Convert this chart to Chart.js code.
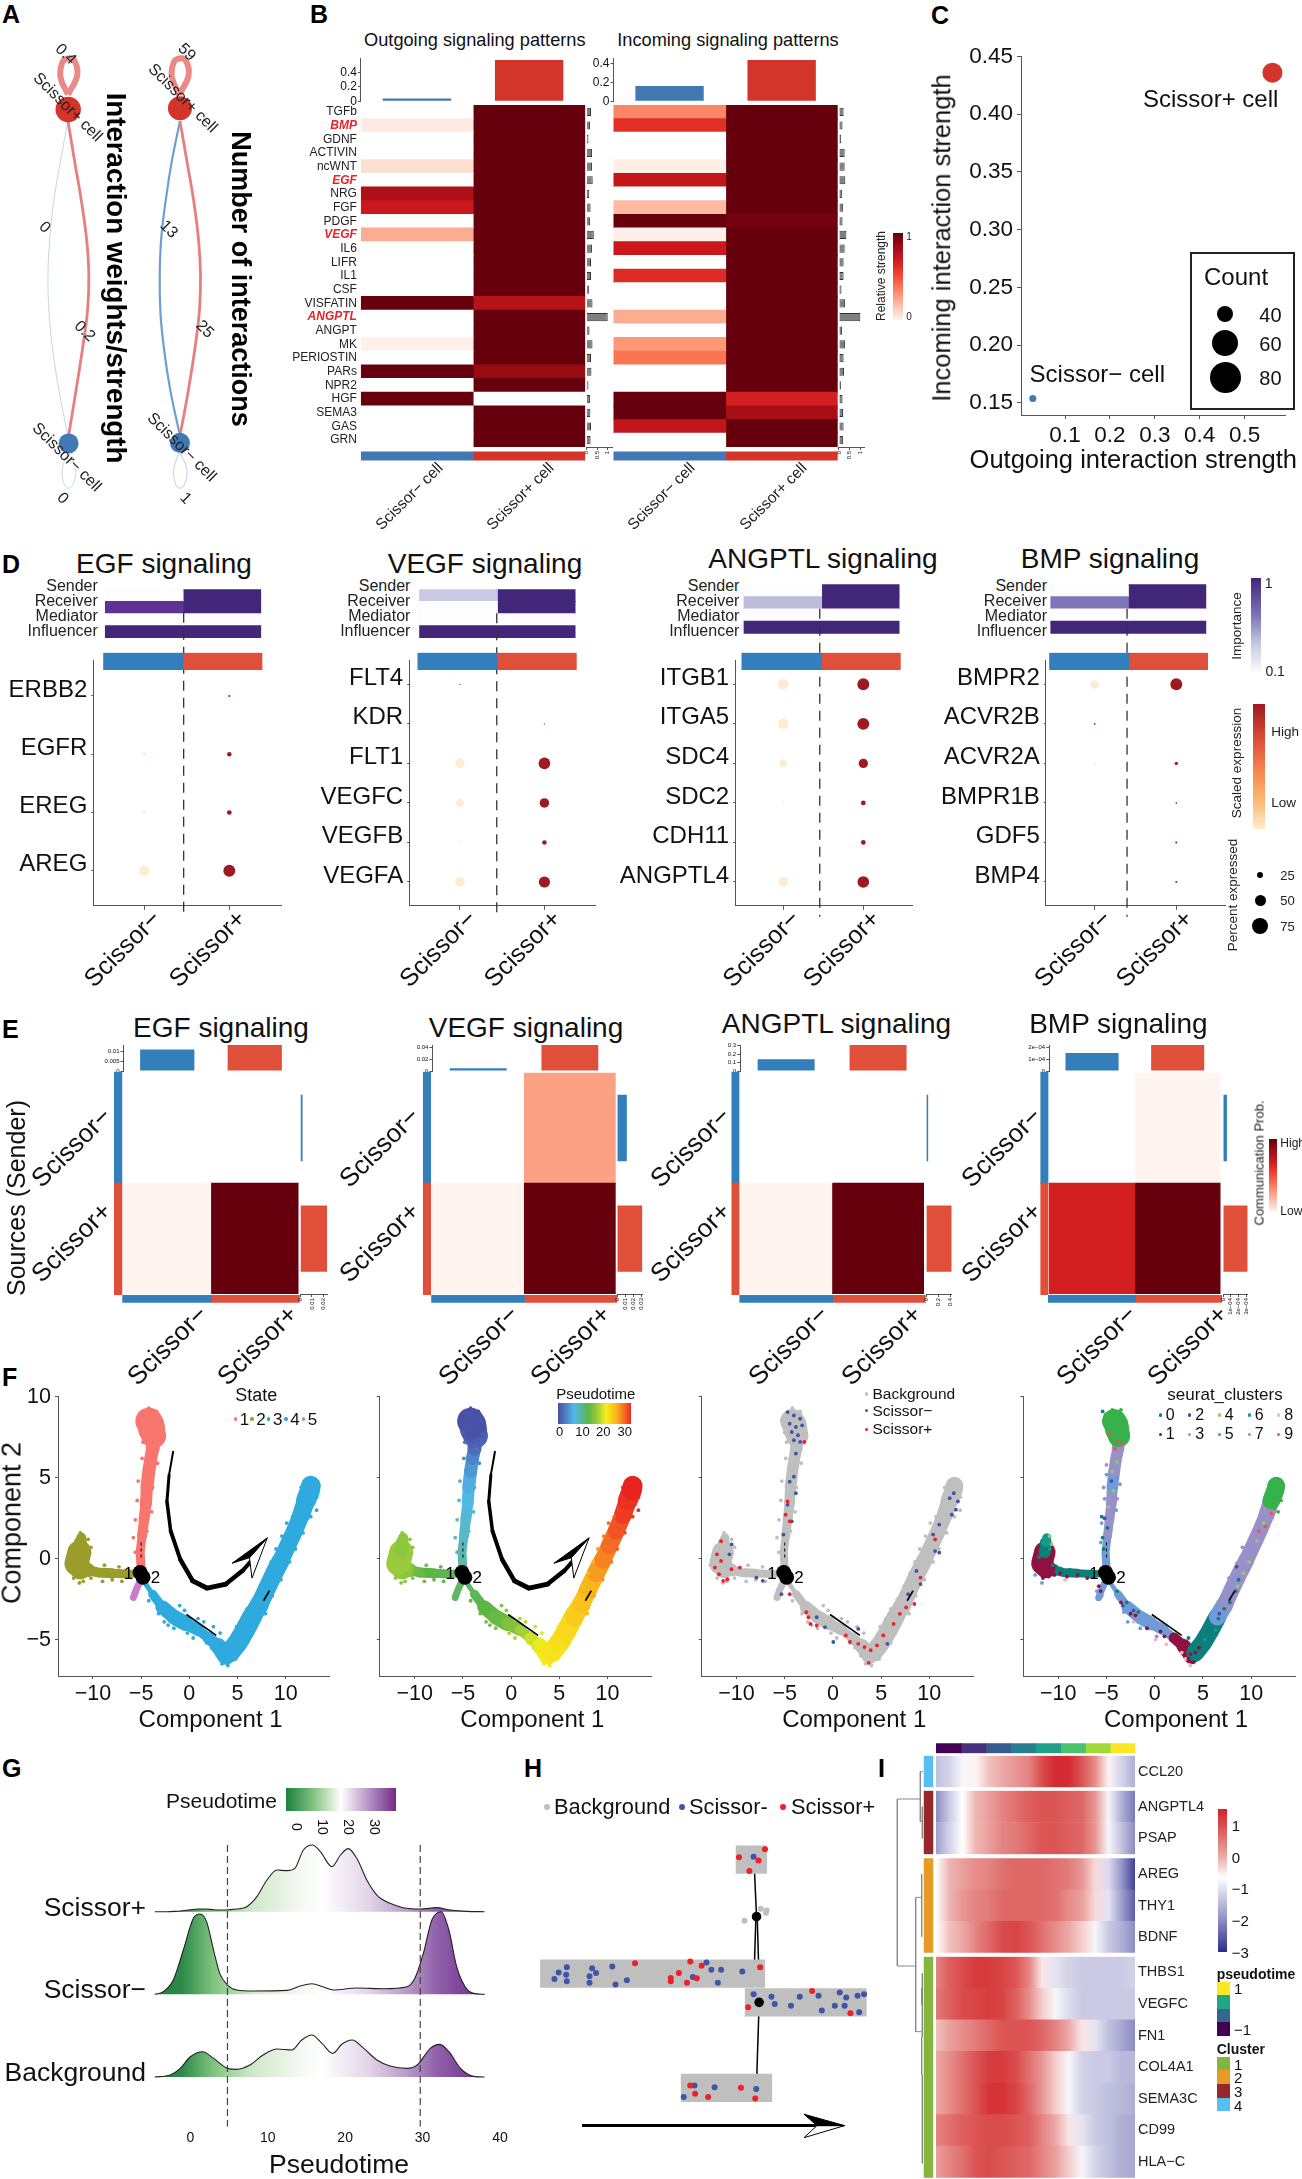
<!DOCTYPE html>
<html>
<head>
<meta charset="utf-8">
<title>Scissor cell communication figure</title>
<script src="https://cdn.jsdelivr.net/npm/chart.js@4/dist/chart.umd.js"></script>
<style>
  html, body { margin: 0; padding: 0; background: #fff; }
  body { position: relative; width: 1302px; height: 2179px; overflow: hidden; }
</style>
</head>
<body>
<script>
// ---- panel B: signalling heatmaps
const sigNames = ['TGFb','BMP','GDNF','ACTIVIN','ncWNT','EGF','NRG','FGF','PDGF','VEGF','IL6','LIFR','IL1','CSF','VISFATIN','ANGPTL','ANGPT','MK','PERIOSTIN','PARs','NPR2','HGF','SEMA3','GAS','GRN'];
const sigHighlight = ['BMP','EGF','VEGF','ANGPTL'];
const outNeg = [0,.07,0,0,.15,0,.85,.75,0,.33,0,0,0,0,1,0,0,.03,0,1,0,1,0,0,0];
const outPos = [1,1,1,1,1,1,1,1,1,1,1,1,1,1,.82,1,1,1,1,.9,1,0,1,1,1];
const inNeg = [.42,.6,0,0,.05,.78,0,.3,1,.04,.75,0,.62,0,0,.33,0,.37,.47,0,0,1,1,.78,0];
const inPos = [1,1,1,1,1,1,1,1,.97,1,1,1,1,1,1,1,1,1,1,1,1,.7,.87,1,1];
const outSide = [.22,.17,.1,.27,.27,.3,.14,.2,.17,.35,.27,.22,.22,.12,.29,1,.15,.29,.22,.24,.1,.17,.19,.22,.2];
const inSide = [.22,.17,.1,.27,.27,.3,.14,.2,.17,.35,.27,.22,.22,.12,.29,1,.15,.29,.22,.24,.1,.17,.19,.22,.2];
const outTop = [.037,.57];
const inTop = [.163,.444];

// ---- panel C
const strengthOut = [.0283,.562];
const strengthIn = [.1538,.436];

// ---- panel D: dot plots, percent expressed and scaled expression per gene
const egfGenes = ['ERBB2','EGFR','EREG','AREG'];
const egfNeg = [0,13,12,40];
const egfPos = [7,17,18,48];
const egfHigh = [0,0,0,0];
const egfRoles = [[0,1],[.85,1],[0,0],[1,1]];
const vegfGenes = ['FLT4','KDR','FLT1','VEGFC','VEGFB','VEGFA'];
const vegfNeg = [4,0,37,30,8,38];
const vegfPos = [0,4,47,38,17,45];
const vegfHigh = [1,0,0,0,0,0];
const vegfRoles = [[.3,1],[0,1],[0,0],[1,1]];
const angptlGenes = ['ITGB1','ITGA5','SDC4','SDC2','CDH11','ANGPTL4'];
const angptlNeg = [43,42,30,8,0,38];
const angptlPos = [48,48,37,18,18,47];
const angptlHigh = [0,0,0,0,0,0];
const angptlRoles = [[0,1],[.35,1],[0,0],[1,1]];
const bmpGenes = ['BMPR2','ACVR2B','ACVR2A','BMPR1B','GDF5','BMP4'];
const bmpNeg = [33,6,8,0,3,2.5];
const bmpPos = [48,0,12.5,5,7,7];
const bmpHigh = [0,1,0,0,0,0];
const bmpRoles = [[0,1],[.6,1],[0,0],[1,1]];
const dashPos = [.463,.436,.456,.396];
const groupNames = ['Scissor−','Scissor+'];

// ---- panel E: communication probability
const egfHeat = [[0,0],[.005,1]];
const egfTop = [.0108,.013];
const egfSide = [.002,.0228];
const vegfHeat = [[0,.35],[.005,1]];
const vegfTop = [.0045,.0437];
const vegfSide = [.012,.031];
const angptlHeat = [[0,0],[.005,1]];
const angptlTop = [.138,.306];
const angptlSide = [.034,.42];
const bmpHeat = [[0,.005],[.7,1]];
const bmpTop = [1.5e-4,2.17e-4];
const bmpSide = [.5e-4,3.15e-4];

// ---- panel F: branch centre lines (component 1, component 2, pseudotime)
const topX = [-5,-5.1,-4.9,-4.7,-4.5,-4.4,-4.2,-4,-3.8,-3.7,-3.9,-4,-4.2];
const topY = [-.6,.4,1.4,2.4,3.4,4.4,5.4,6.2,6.8,7.6,8,8.3,8.5];
const topPt = [10,9,7.5,6.5,5.5,4.5,3.5,2.5,1.5,1,.5,.2,0];
const leftX = [-5.2,-6.5,-8,-9.5,-10.5,-11.3,-11.7,-11.4,-11.3,-11.2];
const leftY = [-.9,-.95,-.9,-.85,-.7,-.6,-.3,.4,1,1.3];
const leftPt = [12,12.5,13,13.5,14,15,15.5,15,15,15];
const tailX = [-5.1,-5.5,-5.8];
const tailY = [-1.4,-1.9,-2.4];
const tailPt = [12,12,12];
const edgeX = [-4.7,-3.8,-2.8,-1.6,-.4,.9,2,3,3.8,4.2,5,5.7,6.5,7.3,8,8.8,9.5,10.2,10.9,11.6,12.1,12.5,12.6];
const edgeY = [-1.4,-2.2,-3,-3.6,-4,-4.4,-4.9,-5.4,-6,-5.8,-5.2,-4.5,-3.6,-2.8,-1.9,-.9,-.1,.8,1.7,2.7,3.6,4.2,4.5];
const edgePt = [12,12.5,13,13.5,14.5,16,18,19.5,20.5,21,21.5,22,23,24,25,26,27,28,29,30,31,32,32];
// loose cells around the branches: component 1, component 2, pseudotime
const topCells = [[-4.9,8.8,0],[-5.3,8.6,0],[-3.4,9.1,0],[-4.2,9.3,0],[-3.1,7.4,1],[-2.9,7.7,1],[-5,7.8,1],[-4.8,7.2,1.5],[-3.6,6.8,2],[-4.9,6.2,3],[-3.3,5.9,3],[-5.3,4.8,4.5],[-3.8,4.4,4.5],[-5.4,3.6,5.5],[-3.9,2.9,6],[-5.6,2.4,7],[-4.4,1.7,7.5],[-5.8,1.3,8],[-5.6,.4,9]];
const leftCells = [[-12.7,-.4,15.5],[-12.3,.1,15.5],[-12,-1.2,15],[-11.4,-1.5,15],[-11,-1.4,15],[-10.2,-1.2,14.5],[-9,-1.4,14],[-8,-1.3,13.5],[-7,-1.4,13],[-10.5,.3,15],[-10.2,.7,15],[-10.5,1.2,15],[-11.8,.9,15],[-11.3,1.6,15],[-8.8,-.4,14],[-7.3,-.5,13]];
const edgeCells = [[-4.2,-2.6,13],[-3.5,-2.4,13],[-3.2,-3.4,13.5],[-2.6,-3.9,14],[-2.2,-4.1,14],[-1.6,-4.3,14.5],[-1,-2.9,14.5],[-.5,-3.2,15],[-.2,-4.6,16],[.4,-4.9,16.5],[.9,-3.7,16.5],[1.5,-3.9,17],[1.8,-5.2,18],[2.3,-5.5,18.5],[2.5,-4.2,18],[3.2,-4.6,19],[2.9,-6,20],[3.4,-6.5,20.5],[4,-6.6,20.5],[4.8,-6.2,21],[5.3,-5.7,21],[6,-5.2,22],[6.5,-4.6,22.5],[4.9,-4.2,21],[5.5,-3.7,21.5],[6,-3.1,22],[6.7,-2.5,23],[7.4,-1.7,24],[8,-.9,24.5],[8.5,-.2,25],[9,.6,26],[9.6,1.4,27],[10.1,2.2,28],[10.7,2.6,28.5],[7.9,-3.4,24.5],[8.6,-2.3,25.5],[9.5,-1.3,26.5],[10.4,-.2,27.5],[11,.6,28.5],[11.8,1.6,29.5],[12.6,2.6,30.5],[11.4,3.6,31],[11.6,4.4,32],[13.2,3.8,31.5],[13.2,3,31],[12.7,4.9,32]];
const scissorNegCells = [[-4.7,9.06],[-4.05,8.85],[-3.4,8.65],[-4.48,8.34],[-3.84,8.14],[-3.19,8.24],[-4.27,7.83],[-3.62,7.63],[-4.05,7.32],[-3.4,7.22],[-3.84,6.5],[-4.05,5.07],[-4.48,4.76],[-3.84,4.05],[-4.7,3.33],[-4.27,2.31],[-5.13,1.49],[12.54,4.05],[12.11,3.74],[12.97,3.54],[12.76,3.03],[12.33,2.72],[11.03,2.11],[10.39,1.49],[10.6,.47],[11.03,.37],[8.66,-.76],[9.09,-1.57],[7.8,-2.19],[-1.68,-3.62],[-.82,-4.23],[.04,-5.15],[2.63,-4.34],[5.65,-5.26],[-10.5,.88],[-10.73,.27],[-7.93,-1.17],[-7.28,-1.37],[-5.34,-2.19]];
const scissorPosCells = [[-12.03,.27],[-12.24,-.55],[-11.81,-.96],[-11.38,-1.37],[-10.95,-1.27],[-11.6,-.14],[-10.52,-.65],[-9.66,-.55],[-11.6,1.08],[-4.48,2.31],[-4.91,2.72],[-4.7,3.54],[-2.97,7.22],[-2.54,-3.62],[-2.33,-4.03],[-1.68,-4.13],[-2.76,-3.31],[1.34,-4.74],[1.77,-5.15],[2.63,-5.26],[3.28,-5.46],[3.92,-5.66],[3.71,-6.44],[4.57,-5.36],[5.22,-4.74],[6.29,-4.03],[6.94,-3.41],[7.59,-3.01],[8.45,-2.8],[9.09,-1.17],[10.6,1.19],[-4.48,-2.19]];
// seurat cluster cells
const cluster0Cells = [[-11.5,.5],[-11.2,.2],[-12,.1],[-10.6,-.4],[-9.8,-.6],[-8.8,-.7],[-8.2,-.8],[-7.2,-.8],[-6.4,-.9],[-5.3,.6],[-5.4,1.3],[-5.5,2.6],[-4.9,1.9],[-5.4,9.1],[-3.9,-2],[-2.9,-2.7],[-1.7,-3.3],[3.5,-4.9],[4.6,-4.9],[5.4,-4.6],[6,-4.2],[6.6,-3.7],[7.2,-3.1],[7.8,-2.7],[8.7,-1.3],[4.9,-5.2],[5.8,-4.9],[8.4,-2]];
const cluster1Cells = [[-12.5,-.2],[-12.2,-.6],[-11.9,-.9],[-11.6,-1.2],[-11.3,-.7],[-11,-1.1],[-10.4,-1],[-9.8,-.9],[-9.1,-1.1],[-8,-1],[-7,-1.2],[-5.8,-1.7],[-5.6,-2],[-3.5,-2.7],[-2.5,-3.4],[-2,-3.5],[-.8,-4.3],[.6,-4.5],[1,-4.8],[2.2,-5.2],[2.8,-5.4],[3.2,-5.6],[3.7,-5.9],[4.2,-5.8],[4.6,-5.5],[3.5,-6.2],[4,-6.4]];
const cluster2Cells = [[-5.2,2.5],[-4.5,4.8],[-3.3,-2.9],[-2.2,-3.2],[6.7,-3.4],[8.5,-.5]];
const cluster3Cells = [[-3.5,6.4],[-5,5.8],[-3.6,4.6],[-3.9,3.7],[-5.3,4.4],[7,-2.5],[7.7,-1.2],[8.5,-.3],[9.1,.7],[9.9,.9],[10.3,.3],[9.4,-.1],[10.6,1.8]];
const cluster4Cells = [[-3.9,6],[-4.4,5.4],[-4.3,4.2],[-4.8,3.2],[-10.9,1.4],[-10.7,.9],[11.3,2.2],[10.6,1.1],[9.8,-.2],[8.6,-1.7],[9.2,-.9]];
const cluster5Cells = [[-5.1,8.9],[-4.4,9.2],[-3.5,9.2],[-3.2,8.6],[-5,8.2],[-3,8],[-4.6,7.6],[-3.5,7.5],[12.3,4.6],[12.9,4.2],[13.1,3.6],[12,3.6],[12.4,3.1],[12.8,2.9]];
const cluster6Cells = [[-11,1],[-10.9,.6],[5.2,-5],[6.3,-4.4]];
const cluster7Cells = [[-5,5.2],[-5.2,3.7],[-4,3],[-5.5,2.2],[-5.6,1],[-5.3,.3],[-6,-2],[-5.9,-2.5],[-5.5,-2.3],[-3.8,-2.4],[-3.2,-3.3],[-2.8,-3.9],[-2,-3.8],[-1.5,-4.3],[-.7,-4.2],[.2,-4.8],[6.1,-3.4],[6.8,-2.9],[7.6,-2.2],[8.2,-1.2],[-12.4,-1],[-11.7,-1.5]];
const cluster8Cells = [[-9.3,-1.3],[-2.2,-3.9],[.1,-5],[1.2,-5.3],[3.2,-6.2],[2.8,-5.8],[3.7,-6.6]];
const cluster9Cells = [[-4.7,7.7],[-3.9,7.3],[-3.4,7.1],[12.1,2.8],[11.5,2],[10.8,1.7],[-4.1,6.8]];
const componentTicks = [-10,-5,0,5,10];
const component2Ticks = [-5,0,5,10];

// ---- panel G: ridge densities, pseudotime and height
const plusX = [-4.6,-3,-2,-1,0,1,2,3,4,5,6,7.3,8.6,9.9,11.2,12.5,13.5,14.6,15.8,16.8,18.3,19.4,20.4,21.5,22.8,24.1,25.8,27.5,29.7,31.8,33.6,35.7,38];
const plusD = [0,0,1,3,6,8,8,6,5,6,8,15,45,95,125,123,130,185,200,180,135,170,189,160,95,50,25,12,8,12,5,1,0];
const minusX = [-4.6,-3.5,-2.2,-.9,.4,1.25,2.1,3,3.8,4.8,6,8.1,12.5,14.2,15.7,17.2,18.5,21.5,25,28,29,30.1,31.2,32.4,33.4,34.4,35.5,36.6,38];
const minusD = [0,8,43,133,228,241,218,133,63,28,13,10,12,25,32,22,13,19,17,23,48,123,223,248,193,83,23,3,0];
const backX = [-4.6,-2.6,-1.3,0,1.6,3,4.8,6,7.7,9.4,11.2,13.1,14.4,15.7,17,18.4,19.6,20.9,22.4,24.1,25.8,28,29.3,31,32.2,33.4,34.9,36.6,38];
const backD = [0,6,26,61,76,56,26,23,36,66,84,81,111,126,101,71,99,111,86,51,33,26,36,86,98,76,26,2,0];
const ridgeBase = [496,248,0];
const ridgeCuts = [4.8,29.7];
const pseudoTicks = [0,10,20,30,40];

// ---- panel H: tree layout coordinates of dots
const treeNegCells = [[122,718],[135,698],[160,682],[158,705],[160,725],[230,710],[238,685],[250,700],[230,730],[300,680],[310,735],[345,722],[548,712],[590,668],[605,690],[635,690],[625,730],[700,695],[735,765],[790,773],[877,773],[935,770],[1000,760],[985,800],[1020,775],[1015,800],[1055,770],[1060,820],[1075,765],[945,815],[850,800],[800,795],[735,343],[553,1045],[743,1056],[615,1050],[520,1080]];
const treePosCells = [[480,725],[480,715],[505,700],[530,730],[560,716],[575,678],[540,665],[370,670],[755,682],[1033,823],[915,755],[718,805],[750,355],[722,387],[690,345],[770,320],[555,1070],[540,1045],[696,1052],[740,1085],[595,1080]];
const treeBackCells = [[757,503],[775,508],[707,540],[773,515]];

// ---- panel I: smoothed expression along pseudotime
const geneCCL20 = [-1.4,-1.2,-.8,-.6,-.2,0,.2,.4,1,1.4,1.4,.9,.3,-.6,-1.2,-1.6];
const geneANGPTL4 = [-2,-1.3,-.7,-.1,.1,.4,.6,.8,.9,.9,.8,.7,.2,-.8,-1.6,-2.2];
const genePSAP = [-1.8,-1.2,-.7,-.1,.1,.4,.5,.7,.9,.9,.8,.7,.2,-.8,-1.4,-2];
const geneAREG = [-.7,-.1,.1,.3,.4,.6,.7,.7,.7,.6,.5,.2,-.4,-1.1,-1.9,-2.8];
const geneTHY1 = [-.7,-.1,.2,.4,.5,.7,.7,.7,.7,.6,.3,.1,-.4,-1,-1.8,-2.5];
const geneBDNF = [-.7,-.2,0,.4,.7,1,1.1,.9,.6,.3,0,-.3,-.8,-1.3,-1.6,-2];
const geneTHBS1 = [.4,.8,1,1.2,1.2,1.1,.9,.4,-.5,-1,-1.2,-1.3,-1.3,-1.3,-1.3,-1.2];
const geneVEGFC = [.5,.8,1,1.1,1.2,1.1,.8,.3,-.3,-.8,-1.1,-1.3,-1.3,-1.3,-1.3,-1.3];
const geneFN1 = [-.2,.1,.3,.5,.7,.9,.9,.9,.7,.4,0,-.5,-1,-1.4,-1.7,-2];
const geneCOL4A1 = [0,.3,.6,.9,1.2,1.2,1,.6,.2,-.3,-.8,-1.2,-1.3,-1.3,-1.5,-1.5];
const geneSEMA3C = [0,.3,.6,.9,1.3,1.3,1.1,.7,.2,-.3,-.8,-1.2,-1.3,-1.4,-1.5,-1.6];
const geneCD99 = [.4,.6,.8,.9,1,1,.9,.8,.4,0,-.5,-1,-1.3,-1.4,-1.6,-1.7];
const geneHLAC = [.1,.4,.6,.9,1,.9,.8,.7,.4,.1,-.3,-.8,-1.2,-1.4,-1.6,-1.7];

// ---- helpers
const FONT = "'Liberation Sans', Arial, Helvetica, sans-serif";
const AX = '#555';
const BLUE_A = '#4279b5', RED_A = '#d4352b';
const BLUE_D = '#337fbb', RED_D = '#e04f3a';

Chart.defaults.animation = false;
Chart.defaults.responsive = false;
Chart.defaults.events = [];
Chart.defaults.plugins.legend.display = false;
Chart.defaults.plugins.tooltip.enabled = false;
Chart.defaults.font.family = FONT;

function hexRgb(h) {
  return [parseInt(h.slice(1, 3), 16), parseInt(h.slice(3, 5), 16), parseInt(h.slice(5, 7), 16)];
}

function ramp(stops, v) {
  if (v <= stops[0][0]) return stops[0][1];
  for (let i = 1; i < stops.length; i++) {
    if (v <= stops[i][0]) {
      const t = (v - stops[i - 1][0]) / (stops[i][0] - stops[i - 1][0]);
      const a = hexRgb(stops[i - 1][1]), b = hexRgb(stops[i][1]);
      return `rgb(${a.map((c, k) => Math.round(c + (b[k] - c) * t)).join(',')})`;
    }
  }
  return stops[stops.length - 1][1];
}

const REDS = [[0,'#fff5f0'],[.15,'#fee0d2'],[.3,'#fcbba1'],[.38,'#fc9272'],[.5,'#fb6a4a'],[.6,'#e32d27'],[.75,'#cb181d'],[.87,'#a50f15'],[1,'#67000d']];
const PURPLES = [[0,'#fdfcfe'],[.3,'#c8cae2'],[.6,'#7d76b8'],[.85,'#5f3192'],[1,'#41267a']];
const PSEUDO = [[0,'#4a4ea5'],[5,'#4fb8e8'],[10,'#5fb8a8'],[13,'#5cb646'],[16,'#a5cf3a'],[20,'#f6ef1c'],[25,'#f9b51c'],[30,'#ef3b24'],[32,'#e8241f']];
const EXPR = [[-3,'#2b2d8c'],[-2,'#8c8cc4'],[-.7,'#ffffff'],[0,'#eba9a6'],[1,'#d94c4b'],[1.5,'#d2232a']];
const reds = v => v === 0 ? '#ffffff' : ramp(REDS, v);
const purples = v => ramp(PURPLES, v);

function txt(s, x, y, o = {}) {
  const d = document.createElement('div');
  const a = o.a || 'c';
  const tx = a === 'l' ? '0' : a === 'r' ? '-100%' : '-50%';
  const origin = a === 'l' ? 'left center' : a === 'r' ? 'right center' : 'center';
  d.textContent = s;
  d.style.cssText = `position:absolute;left:${x}px;top:${y}px;font:${o.i ? 'italic ' : ''}${o.w || 400} ${o.s || 14}px ${FONT};` +
    `line-height:1;white-space:nowrap;color:${o.c || '#111'};transform-origin:${origin};` +
    `transform:translate(${tx},-50%) rotate(${o.r || 0}deg);`;
  document.body.appendChild(d);
}

function rect(l, t, r, b, css) {
  const d = document.createElement('div');
  d.style.cssText = `position:absolute;left:${l}px;top:${t}px;width:${r - l}px;height:${b - t}px;box-sizing:border-box;${css}`;
  document.body.appendChild(d);
}

function dot(x, y, r, c) {
  rect(x - r, y - r, x + r, y + r, `border-radius:50%;background:${c};`);
}

// plot area is given in page pixels, the margins make room for axes outside it
function plot(box, m, cfg) {
  const [l, t, r, b] = box;
  const cl = Math.floor(l - (m.l || 0)), ct = Math.floor(t - (m.t || 0));
  const cw = Math.ceil(r + (m.r || 0)) - cl, ch = Math.ceil(b + (m.b || 0)) - ct;
  const c = document.createElement('canvas');
  c.width = cw;
  c.height = ch;
  c.style.cssText = `position:absolute;left:${cl}px;top:${ct}px;width:${cw}px;height:${ch}px;`;
  document.body.appendChild(c);

  // chart.js paints the first dataset last, the lists below are written bottom to top
  if (cfg.type === 'scatter') cfg.data.datasets.reverse();

  const sc = cfg.options.scales;
  const leftGap = l - cl, topGap = t - ct, rightGap = cl + cw - r, bottomGap = ct + ch - b;
  const yVis = sc.y.display !== false, xVis = sc.x.display !== false;
  const yRight = sc.y.position === 'right';
  if (yVis) sc.y.afterFit = s => { s.width = yRight ? rightGap : leftGap; };
  if (xVis) sc.x.afterFit = s => { s.height = bottomGap; };
  cfg.options.layout = { padding: {
    left: yVis && !yRight ? 0 : leftGap,
    right: yVis && yRight ? 0 : rightGap,
    top: topGap,
    bottom: xVis ? 0 : bottomGap
  } };
  return new Chart(c, cfg);
}

function axis(o) {
  return {
    type: 'linear', bounds: 'data', min: o.min, max: o.max, reverse: !!o.reverse,
    grid: { display: true, drawOnChartArea: false, drawTicks: true, tickLength: o.tick === undefined ? 4 : o.tick, color: AX },
    border: { display: true, color: AX, width: o.lw || 1 },
    ticks: {
      font: { family: FONT, size: o.size || 12 }, color: '#111', padding: o.pad === undefined ? 2 : o.pad,
      autoSkip: false, maxRotation: o.rot || 0, minRotation: o.rot || 0, labelOffset: o.off || 0,
      callback: (v, i) => o.labels ? o.labels[i] : String(v).replace('-', '−')
    },
    afterBuildTicks: s => { s.ticks = o.ticks.map(value => ({ value })); }
  };
}

const hidden = (min, max, reverse) => ({ type: 'linear', display: false, bounds: 'data', min, max, reverse: !!reverse });

// grid of cells from a matrix of colours, one stacked bar per row
function cells(box, colours, yAxis, m) {
  const cols = colours[0].length;
  const data = [];
  for (let c = 0; c < cols; c++) {
    data.push({ data: colours.map(() => 1), backgroundColor: colours.map(row => row[c]), borderWidth: 0, inflateAmount: .5, barPercentage: 1, categoryPercentage: 1 });
  }
  const y = yAxis || { type: 'category', display: false };
  y.stacked = true;
  return plot(box, m || {}, {
    type: 'bar',
    data: { labels: colours.map((_, i) => yAxis && yAxis.names ? yAxis.names[i] : i), datasets: data },
    options: { indexAxis: 'y', scales: { x: Object.assign(hidden(0, cols), { stacked: true }), y } }
  });
}

function topBars(box, vals, max, ticks, labels, colours, frac, size) {
  plot(box, { l: 40, t: 10, b: 10 }, {
    type: 'bar',
    data: { labels: ['a', 'b'], datasets: [{ data: vals, backgroundColor: colours, barPercentage: frac, categoryPercentage: 1, borderWidth: 0 }] },
    options: { scales: {
      x: { type: 'category', display: false },
      y: axis({ min: 0, max, ticks, labels, size, tick: 3, pad: 1 })
    } }
  });
}

function sideBars(box, names, vals, max, ticks, labels, colours, frac, edge) {
  plot(box, { b: 26, r: 6, l: 6 }, {
    type: 'bar',
    data: { labels: names, datasets: [{ data: vals, backgroundColor: colours, barPercentage: frac, categoryPercentage: 1, borderWidth: edge ? 1 : 0, borderColor: '#333' }] },
    options: { indexAxis: 'y', scales: {
      x: axis({ min: 0, max, ticks, labels, size: 6, tick: 3, pad: 1, rot: 90 }),
      y: { type: 'category', display: false }
    } }
  });
}

function gradientBar(l, t, r, b, css) {
  rect(l, t, r, b, `background:${css};`);
}

const lineDs = (pts, colour, width, extra) => Object.assign({
  data: pts.map(p => ({ x: p[0], y: p[1] })), showLine: true, pointRadius: 0, borderColor: colour, borderWidth: width, tension: 0
}, extra || {});

// ---- panel letters
[['A',2,14],['B',310,14],['C',931,15],['D',2,564],['E',2,1029],['F',2,1377],['G',2,1768],['H',524,1768],['I',878,1768]].forEach(p => {
  txt(p[0], p[1], p[2], { s: 25, w: 700, a: 'l', c: '#000' });
});

// ---- A: circle network
const loopPos = [[60,86],[52,68],[54,52],[60,48],[67,50],[70,66],[60,86]];
const loopPos2 = [[181,86],[173,68],[175,52],[181,48],[188,50],[191,66],[181,86]];
const loopNeg = [[60,461],[54,478],[55,492],[60,499],[66,494],[68,478],[60,461]];
const loopNeg2 = [[181,461],[175,478],[176,492],[181,499],[187,494],[189,478],[181,461]];
plot([0,0,320,540], {}, {
  type: 'scatter',
  data: { datasets: [
    lineDs(loopPos, '#e98a86', 6, { tension: .4 }),
    lineDs(loopPos2, '#e98a86', 6, { tension: .4 }),
    lineDs(loopNeg, '#c9d9ec', 1, { tension: .4 }),
    lineDs(loopNeg2, '#c9d9ec', 1.2, { tension: .4 }),
    lineDs([[60,113.6],[52,155],[45,195],[40.5,235],[38.3,275],[39.5,315],[43,350],[50,395],[60,444]], '#b3cbe3', .8, { tension: .4 }),
    lineDs([[60,113.6],[68,160],[75,200],[80.5,240],[82.7,275],[81.5,310],[77,345],[69,395],[60.7,444]], '#e77f7c', 2.8, { tension: .4 }),
    lineDs([[181.7,113.6],[173,155],[166.5,195],[161.5,235],[159.7,275],[160.5,315],[164,350],[171,395],[181.7,444]], '#6f9fd0', 2.2, { tension: .4 }),
    lineDs([[181.7,113.6],[190,160],[197,200],[202,240],[204,275],[203,310],[199,345],[191,395],[181.7,444]], '#e77f7c', 2.8, { tension: .4 }),
    { data: [{ x: 60.3, y: 101.6 }, { x: 181.7, y: 100.2 }, { x: 60.7, y: 452 }, { x: 181.7, y: 451.4 }],
      backgroundColor: [RED_A, RED_A, BLUE_A, BLUE_A], pointRadius: [12.7, 12, 10, 10], borderWidth: 0 }
  ] },
  options: { scales: { x: hidden(0, 320), y: hidden(0, 540, true) } }
});
[['0.4',65.7,54.4],['Scissor+ cell',68.3,107.4],['0',45,227],['0.2',85,331],['Scissor− cell',66.7,457],['0',63.3,498],
 ['59',186.7,51.7],['Scissor+ cell',182.7,98],['13',169,229],['25',205,329],['Scissor− cell',181.7,446.6],['1',185.7,498]].forEach(p => {
  txt(p[0], p[1], p[2], { s: 16, r: 45, c: '#222' });
});
txt('Interaction weights/strength', 116, 277.5, { s: 27.7, w: 700, r: 90, c: '#000' });
txt('Number of interactions', 240, 278.6, { s: 27, w: 700, r: 90, c: '#000' });

// ---- B: signalling pattern heatmaps
txt('Outgoing signaling patterns', 474.8, 39.6, { s: 18.2 });
txt('Incoming signaling patterns', 728, 39.6, { s: 18.2 });
const sigAxis = {
  type: 'category', names: sigNames, position: 'left', offset: true,
  grid: { display: false, drawTicks: false }, border: { display: false },
  ticks: {
    autoSkip: false, padding: 4,
    font: c => { const h = sigHighlight.includes(sigNames[c.index]); return { family: FONT, size: 12, style: h ? 'italic' : 'normal', weight: h ? 'bold' : 'normal' }; },
    color: c => sigHighlight.includes(sigNames[c.index]) ? '#e8232a' : '#222'
  }
};
topBars([360.9,58.5,585.2,101.2], outTop, .59, [0,.2,.4], ['0','0.2','0.4'], [BLUE_A, RED_A], .61, 12);
topBars([613.5,58.5,837.7,101.2], inTop, .459, [0,.2,.4], ['0','0.2','0.4'], [BLUE_A, RED_A], .61, 12);
cells([360.9,105,585.2,447], outNeg.map((v, i) => [reds(v), reds(outPos[i])]), sigAxis, { l: 90, t: 14, b: 14 });
cells([613.5,105,837.7,447], inNeg.map((v, i) => [reds(v), reds(inPos[i])]));
sideBars([586.3,105,612,447], sigNames, outSide, 1.2, [0,.5,1], ['0','0.5','1'], '#808080', .6, true);
sideBars([838.9,105,864.6,447], sigNames, inSide, 1.2, [0,.5,1], ['0','0.5','1'], '#808080', .6, true);
cells([360.9,451.4,585.2,460.4], [[BLUE_A, RED_A]]);
cells([613.5,451.4,837.7,460.4], [[BLUE_A, RED_A]]);
[['Scissor− cell',408.7],['Scissor+ cell',520],['Scissor− cell',661],['Scissor+ cell',773]].forEach(p => {
  txt(p[0], p[1], 496, { s: 15.5, r: -45, c: '#222' });
});
gradientBar(893, 233, 902.5, 320, 'linear-gradient(to bottom,#67000d,#cb181d 30%,#ef3b2c 45%,#fc9272 70%,#fff5f0)');
txt('Relative strength', 880.6, 276, { s: 12, r: -90, c: '#222' });
txt('1', 909, 237, { s: 10, c: '#222' });
txt('0', 909, 316.7, { s: 10, c: '#222' });

// ---- C: interaction strength scatter
plot([1021,53.3,1295,415], { l: 70, b: 40, t: 14 }, {
  type: 'scatter',
  data: { datasets: [{
    data: strengthOut.map((x, i) => ({ x, y: strengthIn[i] })),
    backgroundColor: [BLUE_A, RED_A], pointRadius: [3.5, 10], borderWidth: 0
  }] },
  options: { scales: {
    x: axis({ min: .002, max: .59, ticks: [.1,.2,.3,.4,.5], labels: ['0.1','0.2','0.3','0.4','0.5'], size: 22.5, tick: 4, pad: 3 }),
    y: axis({ min: .1394, max: .45, ticks: [.15,.2,.25,.3,.35,.4,.45], labels: ['0.15','0.20','0.25','0.30','0.35','0.40','0.45'], size: 22.5, tick: 4, pad: 4 })
  } }
});
txt('Incoming interaction strength', 941.7, 237.5, { s: 25.5, r: -90 });
txt('Outgoing interaction strength', 1133.3, 460, { s: 25.5 });
txt('Scissor+ cell', 1210.7, 99, { s: 24 });
txt('Scissor− cell', 1097.3, 374.3, { s: 24 });
rect(1190, 251.7, 1295, 410, 'border:2px solid #222;');
txt('Count', 1204, 277.3, { s: 24, a: 'l' });
dot(1225.3, 314.3, 8, '#000');
dot(1225.3, 343.3, 13, '#000');
dot(1225.3, 377.3, 15.5, '#000');
txt('40', 1259.3, 314.7, { s: 20, a: 'l' });
txt('60', 1259.3, 343.7, { s: 20, a: 'l' });
txt('80', 1259.3, 378, { s: 20, a: 'l' });

// ---- D: dot plots with role strips
const dPanels = [
  { title: 'EGF signaling', tx: 164, ty: 564, genes: egfGenes, neg: egfNeg, pos: egfPos, high: egfHigh, roles: egfRoles,
    axis: 93.3, right: 281, plotY: [-.618, 3.6], heat: [104.9,589.3,261.2,638], strip: [103.2,262.4], labR: 97.8, dash: [-1.43, 3.79] },
  { title: 'VEGF signaling', tx: 485, ty: 564, genes: vegfGenes, neg: vegfNeg, pos: vegfPos, high: vegfHigh, roles: vegfRoles,
    axis: 409.2, right: 595.8, plotY: [-.615, 5.6], heat: [419.2,589.3,575.5,638], strip: [417.5,576.7], labR: 410.4, dash: [-1.8, 5.88] },
  { title: 'ANGPTL signaling', tx: 823, ty: 559.3, genes: angptlGenes, neg: angptlNeg, pos: angptlPos, high: angptlHigh, roles: angptlRoles,
    axis: 735.2, right: 912, plotY: [-.615, 5.6], heat: [743.6,584.3,899.5,633.7], strip: [741.5,900.7], labR: 739.4, dash: [-1.91, 5.88] },
  { title: 'BMP signaling', tx: 1110, ty: 559.3, genes: bmpGenes, neg: bmpNeg, pos: bmpPos, high: bmpHigh, roles: bmpRoles,
    axis: 1045.8, right: 1225.9, plotY: [-.615, 5.6], heat: [1050.4,584.3,1206.3,633.7], strip: [1049.2,1208], labR: 1047, dash: [-1.91, 5.88] }
];
const pctRadius = p => p <= 0 ? 0 : .12 * p + .2;
const PALE = '#fdeccf', DEEP = '#9e1a20';

dPanels.forEach((p, k) => {
  txt(p.title, p.tx, p.ty, { s: 28 });
  ['Sender','Receiver','Mediator','Influencer'].forEach((name, i) => {
    txt(name, p.labR, 585.7 + i * 15, { s: 16, a: 'r', c: '#222' });
  });
  cells(p.heat, p.roles.map(r => r.map(purples)));
  const rows = p.genes.map((_, i) => i);
  const points = [];
  const radii = [];
  const colours = [];
  rows.forEach(i => {
    points.push({ x: 0, y: i });
    radii.push(pctRadius(p.neg[i]));
    colours.push(p.high[i] ? DEEP : PALE);
    points.push({ x: 1, y: i });
    radii.push(pctRadius(p.pos[i]));
    colours.push(p.high[i] ? PALE : DEEP);
  });
  plot([p.axis,660,p.right,905.7], { l: 130, t: 80, b: 95, r: 8 }, {
    type: 'scatter',
    data: { datasets: [
      { data: points, backgroundColor: colours, pointRadius: radii, borderWidth: 0 },
      lineDs([[dashPos[k], p.dash[0]], [dashPos[k], p.dash[1]]], '#333', 1.3, { borderDash: [10, 7], clip: false })
    ] },
    options: { scales: {
      x: axis({ min: -.6, max: 1.608, ticks: [0, 1], labels: groupNames, size: 25, rot: 45, tick: 4, pad: -5, off: 13 }),
      y: axis({ min: p.plotY[0], max: p.plotY[1], reverse: true, ticks: rows, labels: p.genes, size: 24, tick: 2, pad: 4, off: -6 })
    } }
  });
  cells([p.strip[0],652.7,p.strip[1],670], [[BLUE_D, RED_D]]);
});
gradientBar(1250.8, 577.7, 1260.8, 673, 'linear-gradient(to bottom,#41267a,#7d76b8 40%,#c8cae2 70%,#fdfcfe)');
txt('Importance', 1237, 626, { s: 13.5, r: -90, c: '#222' });
txt('1', 1268.7, 582.5, { s: 14, c: '#222' });
txt('0.1', 1265.4, 671, { s: 14, a: 'l', c: '#222' });
gradientBar(1252.5, 704, 1264.5, 829, 'linear-gradient(to bottom,#9e1a20,#e0503a 30%,#f58a4e 55%,#fdba74 78%,#fdeccf)');
txt('Scaled expression', 1237, 763, { s: 13.5, r: -90, c: '#222' });
txt('High', 1271.2, 732, { s: 13.5, a: 'l', c: '#222' });
txt('Low', 1271.2, 803, { s: 13.5, a: 'l', c: '#222' });
txt('Percent expressed', 1233.4, 895, { s: 13.5, r: -90, c: '#222' });
dot(1260, 875, 3.3, '#000');
dot(1260, 900.3, 5.5, '#000');
dot(1260, 925.7, 8, '#000');
txt('25', 1280.3, 875, { s: 13, a: 'l', c: '#222' });
txt('50', 1280.3, 900.3, { s: 13, a: 'l', c: '#222' });
txt('75', 1280.3, 925.7, { s: 13, a: 'l', c: '#222' });

// ---- E: communication probability heatmaps
const ePanels = [
  { title: 'EGF signaling', tx: 221, ty: 1028, heat: egfHeat, top: egfTop, side: egfSide,
    h: [122.7,298.5], strip: [114,122.3], bottom: [122.3,299.8], axisX: 123.5, sideBox: [300.2,327.1], rowLab: 70.5, colLab: [167,257],
    topMax: .013, topTicks: [0,.005,.01], topLabels: ['0','0.005','0.01'], sideTicks: [0,.01,.02], sideLabels: ['0','0.01','0.02'] },
  { title: 'VEGF signaling', tx: 526, ty: 1028, heat: vegfHeat, top: vegfTop, side: vegfSide,
    h: [431.2,615.7], strip: [422.9,431], bottom: [431.2,617.3], axisX: 432.4, sideBox: [617,643.4], rowLab: 379.4, colLab: [478,570],
    topMax: .0437, topTicks: [0,.02,.04], topLabels: ['0','0.02','0.04'], sideTicks: [0,.01,.02,.03], sideLabels: ['0','0.01','0.02','0.03'] },
  { title: 'ANGPTL signaling', tx: 836.5, ty: 1024, heat: angptlHeat, top: angptlTop, side: angptlSide,
    h: [739.4,924], strip: [731.5,739.4], bottom: [739.4,925.7], axisX: 740.2, sideBox: [926.1,952.3], rowLab: 690.3, colLab: [788,881],
    topMax: .306, topTicks: [0,.1,.2,.3], topLabels: ['0','0.1','0.2','0.3'], sideTicks: [0,.2,.4], sideLabels: ['0','0.2','0.4'] },
  { title: 'BMP signaling', tx: 1118.4, ty: 1024, heat: bmpHeat, top: bmpTop, side: bmpSide,
    h: [1048.8,1220.5], strip: [1040.4,1048.4], bottom: [1047.9,1222.1], axisX: 1049.2, sideBox: [1223,1248.8], rowLab: 1000.5, colLab: [1096,1187],
    topMax: 2.17e-4, topTicks: [0,1e-4,2e-4], topLabels: ['0','1e−04','2e−04'], sideTicks: [0,1e-4,2e-4,3e-4], sideLabels: ['0','1e−04','2e−04','3e−04'] }
];
ePanels.forEach(p => {
  txt(p.title, p.tx, p.ty, { s: 28 });
  topBars([p.axisX,1045,p.h[1],1071], p.top, p.topMax, p.topTicks, p.topLabels, [BLUE_D, RED_D], .62, 6);
  cells([p.h[0],1072.7,p.h[1],1294], p.heat.map(r => r.map(reds)));
  cells([p.strip[0],1071.7,p.strip[1],1295], [[BLUE_D],[RED_D]]);
  cells([p.bottom[0],1295,p.bottom[1],1302.7], [[BLUE_D, RED_D]]);
  sideBars([p.sideBox[0],1072.7,p.sideBox[1],1294], groupNames, p.side, p.side[1], p.sideTicks, p.sideLabels, [BLUE_D, RED_D], .6, false);
  txt('Scissor−', p.rowLab, 1147, { s: 26, r: -45 });
  txt('Scissor+', p.rowLab, 1241.7, { s: 26, r: -45 });
  txt('Scissor−', p.colLab[0], 1345, { s: 26, r: -45 });
  txt('Scissor+', p.colLab[1], 1345, { s: 26, r: -45 });
});
txt('Sources (Sender)', 15.5, 1197.5, { s: 25, r: -90 });
gradientBar(1269.1, 1139.3, 1277, 1212, 'linear-gradient(to bottom,#67000d,#cb181d 30%,#ef3b2c 45%,#fc9272 70%,#fff5f0)');
txt('High', 1280.3, 1143, { s: 12, a: 'l', c: '#222' });
txt('Low', 1280.3, 1211, { s: 12, a: 'l', c: '#222' });
txt('Communication Prob.', 1259.1, 1163.3, { s: 13, r: -90, c: '#222' });

// ---- F: trajectories
const topW = [9,9,10,11,12,13,13,13,14,25,27,27,26];
const leftW = [8,9,10,10,14,22,24,13,10,8];
const tailW = [7,7,6];
const edgeW = [5,9,14,15,12,10,12,16,18,20,20,20,19,18,18,18,17,17,17,18,20,20,10];
const curveX = [-1.68,-2.1,-2.32,-1.93,-.94,.35,1.86,3.79,5.51,7.02];
const curveY = [6.61,5.18,3.54,1.7,-.04,-1.37,-1.82,-1.57,-.75,.27];
const curveW = [2,3,3.5,4,4.5,5,5,4.5,4,3];
const STATE = { one: '#f8766d', two: '#9a9d2c', three: '#00bf7d', four: '#2eaade', five: '#c77cce' };
const CLUSTER = ['#0b7f7a','#8e1240','#3d53a7','#9a90c9','#8ccc6e','#37b14a','#169a8e','#6f9bd8','#f5b5c5','#e4545c'];

function band(xs, ys, ws, colourAt) {
  return {
    data: xs.map((x, i) => ({ x, y: ys[i] })), showLine: true, pointRadius: 0, tension: 0,
    borderCapStyle: 'round', borderJoinStyle: 'round', borderWidth: ws[0], borderColor: colourAt(0),
    segment: { borderWidth: c => ws[c.p0DataIndex], borderColor: c => colourAt(c.p0DataIndex) }
  };
}

const scatterDs = (list, colour, r) => ({
  data: list.map(p => ({ x: p[0], y: p[1] })), pointRadius: r || 1.9, borderWidth: 0,
  backgroundColor: typeof colour === 'function' ? list.map(colour) : colour
});

function trajectory(withArrow) {
  const out = [
    lineDs([[-.3,-3.45],[2.8,-4.74]], '#000', 1.6),
    lineDs([[7.7,-2.6],[8.31,-1.98]], '#000', 1.6),
    lineDs([[-5,1],[-5,-.1]], '#000', 1, { borderDash: [3, 3] }),
    { data: [{ x: -5.1, y: -.85 }, { x: -4.8, y: -1.15 }], backgroundColor: '#000', pointRadius: 7.5, borderWidth: 0 }
  ];
  if (withArrow) {
    out.push(band(curveX, curveY, curveW, () => '#000'));
    out.push(lineDs([[8.09,1.29],[6.24,.06],[6.5,-1.2],[8.09,1.29]], '#000', 1, { fill: 'shape', backgroundColor: '#fff' }));
    out.push(lineDs([[8.09,1.29],[4.44,-.28],[6.24,.06],[8.09,1.29]], '#000', 1, { fill: 'shape', backgroundColor: '#000' }));
  }
  return out;
}

function fPanel(dx, datasets, showLabels, withArrow) {
  plot([58 + dx,1394.3,329.6 + dx,1676], { l: showLabels ? 58 : 10, b: 34, t: 14, r: 14 }, {
    type: 'scatter',
    data: { datasets: datasets.concat(trajectory(withArrow)) },
    options: { scales: {
      x: axis({ min: -13.62, max: 14.55, ticks: componentTicks, size: 21.5, tick: 3, pad: 2 }),
      y: axis({ min: -7.25, max: 10, ticks: component2Ticks, labels: showLabels ? null : ['','','',''], size: 21.5, tick: 3, pad: 4 })
    } }
  });
  txt('Component 1', 210.6 + dx, 1719, { s: 24 });
  txt('1', 128.5 + dx, 1573.3, { s: 17, c: '#000' });
  txt('2', 155.5 + dx, 1576.7, { s: 17, c: '#000' });
}

// state colouring
fPanel(0, [
  band(topX, topY, topW, () => STATE.one), scatterDs(topCells, STATE.one),
  band(leftX, leftY, leftW, () => STATE.two), scatterDs(leftCells, STATE.two),
  band(tailX, tailY, tailW, () => STATE.five),
  band(edgeX, edgeY, edgeW, () => STATE.four), scatterDs(edgeCells, STATE.four)
], true, true);
txt('Component 2', 12.4, 1523, { s: 27, r: -90 });
txt('State', 256.2, 1395, { s: 18 });
[[STATE.one,235.5,'1'],[STATE.two,252,'2'],[STATE.three,268.7,'3'],[STATE.four,286,'4'],[STATE.five,303.5,'5']].forEach(s => {
  dot(s[1], 1419, 1.7, s[0]);
  txt(s[2], s[1] + 9, 1419, { s: 17 });
});

// pseudotime colouring
const ptColour = p => ramp(PSEUDO, p[2]);
fPanel(321.8, [
  band(topX, topY, topW, i => ramp(PSEUDO, topPt[i])), scatterDs(topCells, ptColour),
  band(leftX, leftY, leftW, i => ramp(PSEUDO, leftPt[i])), scatterDs(leftCells, ptColour),
  band(tailX, tailY, tailW, i => ramp(PSEUDO, tailPt[i])),
  band(edgeX, edgeY, edgeW, i => ramp(PSEUDO, edgePt[i])), scatterDs(edgeCells, ptColour)
], false, true);
txt('Pseudotime', 595.8, 1392.7, { s: 15 });
gradientBar(557.6, 1402.7, 630.6, 1424, 'linear-gradient(to right,#4a4ea5,#4fb8e8 22%,#5cb646 42%,#a5cf3a 55%,#f6ef1c 66%,#f9b51c 80%,#ec2a24)');
[['0',559.7],['10',582.5],['20',603.2],['30',624.8]].forEach(t => txt(t[0], t[1], 1431, { s: 13 }));

// Scissor status colouring
const GREY = '#bfbfbf', NEG = '#3e55a8', POS = '#ee1f26';
fPanel(643.6, [
  band(topX, topY, topW.map(w => w * .9), () => GREY), scatterDs(topCells, GREY),
  band(leftX, leftY, leftW.map(w => w * .9), () => GREY), scatterDs(leftCells, GREY),
  band(tailX, tailY, tailW, () => GREY),
  band(edgeX, edgeY, edgeW.map(w => w * .9), () => GREY), scatterDs(edgeCells, GREY),
  scatterDs(scissorNegCells, NEG), scatterDs(scissorPosCells, POS)
], false, false);
[[GREY,'Background',1394],[NEG,'Scissor−',1410.7],[POS,'Scissor+',1429.3]].forEach(s => {
  dot(866.2, s[2], 1.7, s[0]);
  txt(s[1], 872.5, s[2], { s: 15.5, a: 'l' });
});

// seurat cluster colouring
const topCluster = [7,7,3,3,3,7,3,3,3,5,5,5,5];
const leftCluster = [0,0,0,0,0,1,1,0,6,6];
const edgeCluster = [7,7,7,7,7,7,1,1,1,0,0,0,7,3,3,3,3,3,3,3,5,5,5];
fPanel(965.4, [
  band(topX, topY, topW.map(w => w * .9), i => CLUSTER[topCluster[i]]),
  band(leftX, leftY, leftW.map(w => w * .9), i => CLUSTER[leftCluster[i]]),
  band(tailX, tailY, tailW, () => CLUSTER[7]),
  band(edgeX, edgeY, edgeW.map(w => w * .9), i => CLUSTER[edgeCluster[i]]),
  scatterDs(cluster3Cells, CLUSTER[3]), scatterDs(cluster7Cells, CLUSTER[7]), scatterDs(cluster4Cells, CLUSTER[4]),
  scatterDs(cluster2Cells, CLUSTER[2]), scatterDs(cluster6Cells, CLUSTER[6]), scatterDs(cluster0Cells, CLUSTER[0]),
  scatterDs(cluster8Cells, CLUSTER[8]), scatterDs(cluster1Cells, CLUSTER[1]), scatterDs(cluster5Cells, CLUSTER[5]),
  scatterDs(cluster9Cells, CLUSTER[9])
], false, false);
txt('seurat_clusters', 1225, 1394.3, { s: 17 });
[1160.2,1189.7,1219.3,1249.2,1278.7].forEach((x, i) => {
  dot(x, 1415, 1.7, CLUSTER[i * 2]);
  txt(String(i * 2), x + 10, 1415, { s: 16 });
  dot(x, 1434.3, 1.7, CLUSTER[i * 2 + 1]);
  txt(String(i * 2 + 1), x + 10, 1434.3, { s: 16 });
});

// ---- G: ridgeline
const PRGN = [[-4.65,'#1b7f3f'],[-1,'#2e8b4a'],[3,'#7fc47f'],[8,'#cfe8c8'],[14,'#f3f8f1'],[17,'#ffffff'],[23,'#e3d5e8'],[28,'#b79ac8'],[32,'#8f5fa9'],[38,'#6d2c8a']];
function ridgeFill(ctx) {
  const c = ctx.chart;
  if (!c.chartArea) return '#ccc';
  const x = c.scales.x;
  const g = c.ctx.createLinearGradient(x.left, 0, x.right, 0);
  const span = x.max - x.min;
  PRGN.forEach(s => g.addColorStop((s[0] - x.min) / span, s[1]));
  return g;
}
const ridge = (xs, ds, base) => ({
  data: xs.map((x, i) => ({ x, y: base + ds[i] })), showLine: true, pointRadius: 0, cubicInterpolationMode: 'monotone',
  borderColor: '#222', borderWidth: 1.1, fill: { value: base }, backgroundColor: ridgeFill
});
plot([154.3,1840,500,2126.7], { l: 20, r: 20, b: 22 }, {
  type: 'scatter',
  data: { datasets: [
    ridge(plusX, plusD, ridgeBase[0]),
    ridge(minusX, minusD, ridgeBase[1]),
    ridge(backX, backD, ridgeBase[2]),
    lineDs([[ridgeCuts[0],696],[ridgeCuts[0],-149]], '#444', 1.2, { borderDash: [7, 4] }),
    lineDs([[ridgeCuts[1],696],[ridgeCuts[1],-149]], '#444', 1.2, { borderDash: [7, 4] })
  ] },
  options: { scales: {
    x: Object.assign(axis({ min: -4.65, max: 40, ticks: pseudoTicks, size: 14, tick: 0, pad: 3 }), { border: { display: false }, grid: { display: false, drawTicks: false } }),
    y: hidden(-149, 711)
  } }
});
txt('Scissor+', 146, 1906.7, { s: 26.5, a: 'r' });
txt('Scissor−', 146, 1989, { s: 26.5, a: 'r' });
txt('Background', 146, 2071.7, { s: 26.5, a: 'r' });
txt('Pseudotime', 339, 2164, { s: 26.5 });
txt('Pseudotime', 277, 1800, { s: 21, a: 'r' });
gradientBar(286, 1788.3, 396, 1810.7, 'linear-gradient(to right,#1b7f3f,#7fc47f 25%,#e8f3e4 45%,#ffffff 50%,#e3d5e8 60%,#a67fb9 80%,#762a83)');
[['0',297],['10',323.3],['20',349],['30',374.7]].forEach(t => txt(t[0], t[1], 1827, { s: 14, r: 90 }));

// ---- H: state tree
const branchRows = [[[680,352],[776,352]],[[78,702],[770,702]],[[708,790],[1083,790]],[[511,1052],[792,1052]]];
plot([510,1740,890,2179], {}, {
  type: 'scatter',
  data: { datasets: [
    lineDs([[738,395],[744,527]], '#000', 1.5),
    lineDs([[742,527],[738,660]], '#000', 1.5),
    lineDs([[746,527],[750,660]], '#000', 1.5),
    lineDs([[752,790],[745,1010]], '#000', 1.5),
    ...branchRows.map(r => lineDs(r, GREY, 28.3)),
    scatterDs(treeBackCells, GREY, 3),
    scatterDs(treeNegCells, NEG, 3),
    scatterDs(treePosCells, POS, 3),
    { data: [{ x: 744, y: 527 }, { x: 752, y: 790 }], backgroundColor: '#000', pointRadius: 4.8, borderWidth: 0 },
    lineDs([[207,1168],[960,1168]], '#000', 3),
    lineDs([[1015,1168],[930,1168],[890,1205],[1015,1168]], '#000', 1, { fill: 'shape', backgroundColor: '#fff' }),
    lineDs([[1015,1168],[890,1133],[930,1168],[1015,1168]], '#000', 1, { fill: 'shape', backgroundColor: '#000' })
  ] },
  options: { scales: { x: hidden(0, 1140), y: hidden(0, 1317, true) } }
});
[[546.7,GREY,554,'Background'],[682.3,NEG,689,'Scissor-'],[783,POS,791,'Scissor+']].forEach(s => {
  dot(s[0], 1806.7, 3, s[1]);
  txt(s[3], s[2], 1806.7, { s: 21.8, a: 'l' });
});

// ---- I: pseudotime heatmap, one block per cluster
function exprFill(vals) {
  return ctx => {
    const c = ctx.chart;
    if (!c.chartArea) return '#fff';
    const g = c.ctx.createLinearGradient(c.chartArea.left, 0, c.chartArea.right, 0);
    vals.forEach((v, i) => g.addColorStop(i / (vals.length - 1), ramp(EXPR, v)));
    return g;
  };
}
function exprBlock(top, bottom, names, rows, colour) {
  plot([936,top,1135,bottom], { r: 90, t: 12, b: 12 }, {
    type: 'bar',
    data: { labels: names, datasets: [{
      data: rows.map(() => 1), barPercentage: 1, categoryPercentage: 1, borderWidth: 0,
      backgroundColor: ctx => exprFill(rows[ctx.dataIndex])(ctx)
    }] },
    options: { indexAxis: 'y', scales: {
      x: hidden(0, 1),
      y: { type: 'category', position: 'right', offset: true, grid: { display: false, drawTicks: false }, border: { display: false },
        ticks: { font: { family: FONT, size: 14.5 }, color: '#222', padding: 3, autoSkip: false } }
    } }
  });
  cells([923.7,top,933.3,bottom], [[colour]]);
}
cells([936,1743.3,1135,1753.3], [['#440154','#46327e','#365c8d','#277f8e','#1fa187','#4ac16d','#a0da39','#fde725']]);
exprBlock(1755.7, 1787.3, ['CCL20'], [geneCCL20], '#56bfef');
exprBlock(1790.7, 1854.3, ['ANGPTL4','PSAP'], [geneANGPTL4, genePSAP], '#97282a');
exprBlock(1858.3, 1952.7, ['AREG','THY1','BDNF'], [geneAREG, geneTHY1, geneBDNF], '#e79a26');
exprBlock(1956.7, 2177.7, ['THBS1','VEGFC','FN1','COL4A1','SEMA3C','CD99','HLA−C'],
  [geneTHBS1, geneVEGFC, geneFN1, geneCOL4A1, geneSEMA3C, geneCD99, geneHLAC], '#86b53d');
const dendro = [
  [[121,177],[52,177],[52,678],[107,678]],
  [[131,95],[121,95],[121,245],[131,245]],
  [[127,200],[127,295]],
  [[125,472],[107,472],[107,875],[125,875]],
  [[125,402],[125,590]],
  [[127,700],[127,890]],
  [[125,745],[125,795]],
  [[125,890],[125,1005]],
  [[127,1005],[127,1270]]
];
plot([880,1740,923,2179], {}, {
  type: 'scatter',
  data: { datasets: dendro.map(d => lineDs(d, '#888', 1)) },
  options: { scales: { x: hidden(0, 129), y: hidden(0, 1317, true) } }
});
gradientBar(1217.7, 1809.3, 1227.3, 1952, 'linear-gradient(to bottom,#d2232a,#d94c4b 11%,#eba9a6 33%,#ffffff 48%,#8c8cc4 78%,#2b2d8c)');
[['1',1825],['0',1856.7],['−1',1888.3],['−2',1920],['−3',1951.7]].forEach(t => txt(t[0], 1231.7, t[1], { s: 15, a: 'l' }));
txt('pseudotime', 1216.7, 1974.3, { s: 14, w: 700, a: 'l' });
gradientBar(1216.7, 1981.7, 1230, 2036, 'linear-gradient(to bottom,#fde725 0 25%,#21a585 25% 50%,#31688e 50% 75%,#440154 75%)');
txt('1', 1234, 1988.3, { s: 15, a: 'l' });
txt('−1', 1234, 2029.3, { s: 15, a: 'l' });
txt('Cluster', 1216.7, 2049.3, { s: 14, w: 700, a: 'l' });
[['#86b53d','1',2056.7],['#e79a26','2',2070],['#97282a','3',2084],['#56bfef','4',2097.7]].forEach(s => {
  rect(1216.7, s[2], 1230, s[2] + 13.5, `background:${s[0]};`);
  txt(s[1], 1234, s[2] + 7, { s: 15, a: 'l' });
});
</script>
</body>
</html>
